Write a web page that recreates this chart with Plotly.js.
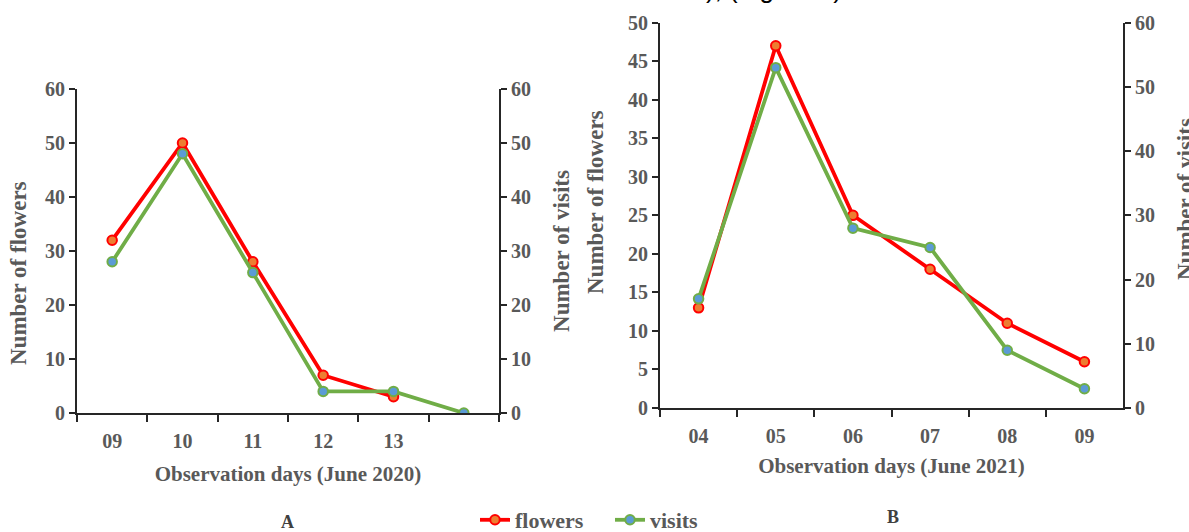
<!DOCTYPE html>
<html>
<head>
<meta charset="utf-8">
<script src="https://cdn.plot.ly/plotly-3.0.1.min.js"></script>
<style>
html,body{margin:0;padding:0;background:#fff;overflow:hidden;}
#chart{width:1189px;height:532px;}
</style>
</head>
<body>
<div id="chart"></div>
<script>
// Panel A (June 2020)
var daysA = ["09", "10", "11", "12", "13", "14"];
var dayLabelsA = ["09", "10", "11", "12", "13", ""];
var flowersA = [32, 50, 28, 7, 3, null];
var visitsA = [28, 48, 26, 4, 4, 0];

// Panel B (June 2021)
var daysB = ["04", "05", "06", "07", "08", "09"];
var dayLabelsB = ["04", "05", "06", "07", "08", "09"];
var flowersB = [13, 47, 25, 18, 11, 6];
var visitsB = [17, 53, 28, 25, 9, 3];

var RED = "#FF0000", ORANGE = "#ED7D31", GREEN = "#70AD47", BLUE = "#5B9BD5";
var GRAY = "#595959", AXIS = "#262626";
var serif = "Liberation Serif";
var W = 1189, H = 532;

function flowerTrace(x, y, xa, ya, show) {
  return {
    x: x, y: y, xaxis: xa, yaxis: ya, type: "scatter", mode: "lines+markers",
    name: "flowers", showlegend: show, legendgroup: "flowers",
    line: {color: RED, width: 3.8},
    marker: {size: 9.5, color: ORANGE, line: {color: RED, width: 2}},
    connectgaps: false
  };
}
function visitTrace(x, y, xa, ya, show) {
  return {
    x: x, y: y, xaxis: xa, yaxis: ya, type: "scatter", mode: "lines+markers",
    name: "visits", showlegend: show, legendgroup: "visits",
    line: {color: GREEN, width: 3.8},
    marker: {size: 9.5, color: BLUE, line: {color: GREEN, width: 2}}
  };
}

var data = [
  flowerTrace(daysA, flowersA, "x", "y", true),
  visitTrace(daysA, visitsA, "x", "y2", true),
  flowerTrace(daysB, flowersB, "x2", "y3", false),
  visitTrace(daysB, visitsB, "x2", "y4", false)
];

var tickFont = {family: serif, size: 20, color: GRAY, weight: "bold"};
var xTitleFont = {family: serif, size: 21, color: GRAY, weight: "bold"};
var yTitleFont = {family: serif, size: 23, color: GRAY, weight: "bold"};

function yAxis(opts) {
  var a = {
    showline: true, linecolor: AXIS, linewidth: 2,
    ticks: "outside", ticklen: 6, tickwidth: 2, tickcolor: AXIS,
    showgrid: false, zeroline: false, fixedrange: true,
    tickfont: tickFont
  };
  for (var k in opts) a[k] = opts[k];
  return a;
}
function xAxis(opts) {
  var a = {
    type: "category", tickson: "boundaries",
    showline: true, linecolor: AXIS, linewidth: 2,
    ticks: "outside", ticklen: 7, tickwidth: 2, tickcolor: AXIS,
    showgrid: false, zeroline: false, fixedrange: true,
    range: [-0.5, 5.5], tickmode: "array", ticklabelstandoff: 9,
    tickfont: tickFont
  };
  for (var k in opts) a[k] = opts[k];
  return a;
}

var layout = {
  width: W, height: H,
  margin: {l: 0, r: 0, t: 0, b: 0, autoexpand: false},
  font: {family: serif, color: GRAY, weight: "bold"},
  paper_bgcolor: "#ffffff", plot_bgcolor: "rgba(0,0,0,0)",
  showlegend: true,
  legend: {
    orientation: "h", x: 475 / W, xanchor: "left", y: 1 - 520 / H, yanchor: "middle",
    font: {family: serif, size: 22, color: GRAY, weight: "bold"},
    itemwidth: 30, entrywidth: 90, entrywidthmode: "pixels", tracegroupgap: 0
  },
  xaxis: xAxis({
    domain: [77 / W, 499 / W], anchor: "y",
    tickvals: daysA, ticktext: dayLabelsA,
    title: {text: "Observation days (June 2020)", font: xTitleFont, standoff: 15}
  }),
  yaxis: yAxis({
    domain: [1 - 413 / H, 1 - 89 / H], anchor: "x", range: [0, 60], dtick: 10
  }),
  yaxis2: yAxis({
    overlaying: "y", side: "right", anchor: "x", range: [0, 60], dtick: 10,
    title: {text: "Number of visits", font: yTitleFont, standoff: 23}
  }),
  xaxis2: xAxis({
    domain: [660 / W, 1123 / W], anchor: "y3",
    tickvals: daysB, ticktext: dayLabelsB,
    title: {text: "Observation days (June 2021)", font: xTitleFont, standoff: 12}
  }),
  yaxis3: yAxis({
    domain: [1 - 408 / H, 1 - 22.7 / H], anchor: "x2", range: [0, 50], dtick: 5
  }),
  yaxis4: yAxis({
    overlaying: "y3", side: "right", anchor: "x2", range: [0, 60], dtick: 10
  }),
  annotations: [
    {text: "Number of flowers", xref: "paper", yref: "paper", x: 18 / W, y: 1 - 273 / H,
     xanchor: "center", yanchor: "middle", textangle: -90, showarrow: false, font: yTitleFont},
    {text: "Number of flowers", xref: "paper", yref: "paper", x: 595 / W, y: 1 - 202 / H,
     xanchor: "center", yanchor: "middle", textangle: -90, showarrow: false, font: yTitleFont},
    {text: "Number of visits", xref: "paper", yref: "paper", x: 1185 / W, y: 1 - 199 / H,
     xanchor: "center", yanchor: "middle", textangle: -90, showarrow: false, font: yTitleFont},
    {text: "A", xref: "paper", yref: "paper", x: 287 / W, y: 1 - 522 / H,
     xanchor: "center", yanchor: "middle", showarrow: false,
     font: {family: serif, size: 18, color: "#404040", weight: "bold"}},
    {text: "B", xref: "paper", yref: "paper", x: 893 / W, y: 1 - 517 / H,
     xanchor: "center", yanchor: "middle", showarrow: false,
     font: {family: serif, size: 18, color: "#404040", weight: "bold"}},
    {text: "), (Figure 4)", xref: "paper", yref: "paper", x: 774 / W, y: 1 - 6 / H,
     xanchor: "center", yanchor: "bottom", showarrow: false,
     font: {family: "Liberation Sans", size: 26, color: "#000000", weight: "normal"}}
  ]
};

Plotly.newPlot("chart", data, layout, {displayModeBar: false, staticPlot: true});
</script>
</body>
</html>
